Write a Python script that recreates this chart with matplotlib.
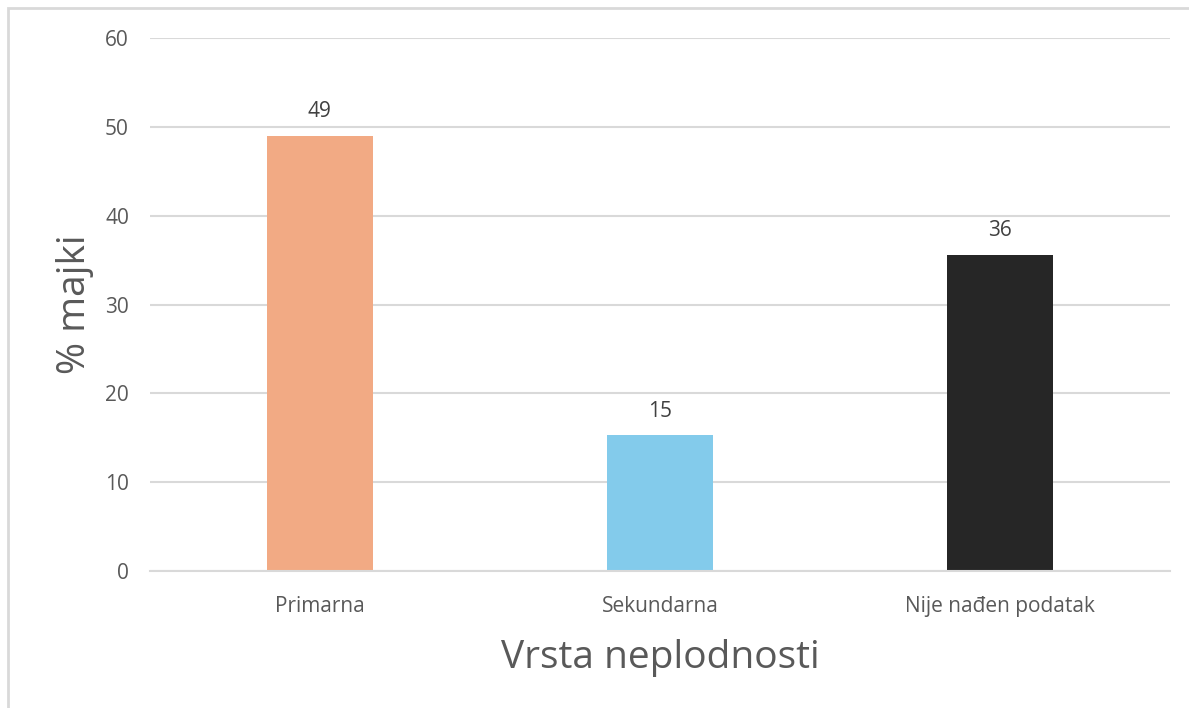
import matplotlib.pyplot as plt
from matplotlib.patches import Rectangle

categories = ['Primarna', 'Sekundarna', 'Nije nađen podatak']
values = [49.0, 15.3, 35.6]
labels = ['49', '15', '36']
colors = ['#F2AA84', '#83CBEB', '#262626']
yticks = [0, 10, 20, 30, 40, 50, 60]

plt.rcParams['font.family'] = ['Open Sans', 'DejaVu Sans']
TXT = '#595959'
GRID = '#D9D9D9'

fig = plt.figure(figsize=(11.89, 7.08), dpi=100)
ax = fig.add_axes([0.126, 0.1935, 0.858, 0.7528])

# outer chart frame (only left/top visible in the reference)
fig.patches.append(Rectangle((8 / 1189, -0.05), 1.2, 1 - 8 / 708 + 0.05,
                             transform=fig.transFigure, fill=False,
                             edgecolor='#D9D9D9', linewidth=2))

x = range(len(categories))
bars = ax.bar(x, values, width=0.31, color=colors, zorder=2)
for bar, lab in zip(bars, labels):
    ax.text(bar.get_x() + bar.get_width() / 2, bar.get_height() + 1.5, lab,
            ha='center', va='bottom', fontsize=15, color='#404040')

ax.set_xlim(-0.5, 2.5)
ax.set_ylim(0, 60)
ax.set_yticks(yticks)
ax.set_xticks(list(x))
ax.set_xticklabels(categories)
ax.yaxis.grid(True, color=GRID, linewidth=1.5, zorder=0)
ax.set_axisbelow(True)
for s in ['top', 'right', 'left']:
    ax.spines[s].set_visible(False)
ax.spines['bottom'].set_color(GRID)
ax.spines['bottom'].set_linewidth(1.5)
ax.tick_params(axis='both', length=0, labelsize=15, labelcolor=TXT)
ax.tick_params(axis='y', pad=15)
ax.tick_params(axis='x', pad=18)

ax.set_ylabel('% majki', fontsize=28, color=TXT, labelpad=8)
ax.set_xlabel('Vrsta neplodnosti', fontsize=28, color=TXT, labelpad=16)

fig.savefig('out.png', dpi=100)
